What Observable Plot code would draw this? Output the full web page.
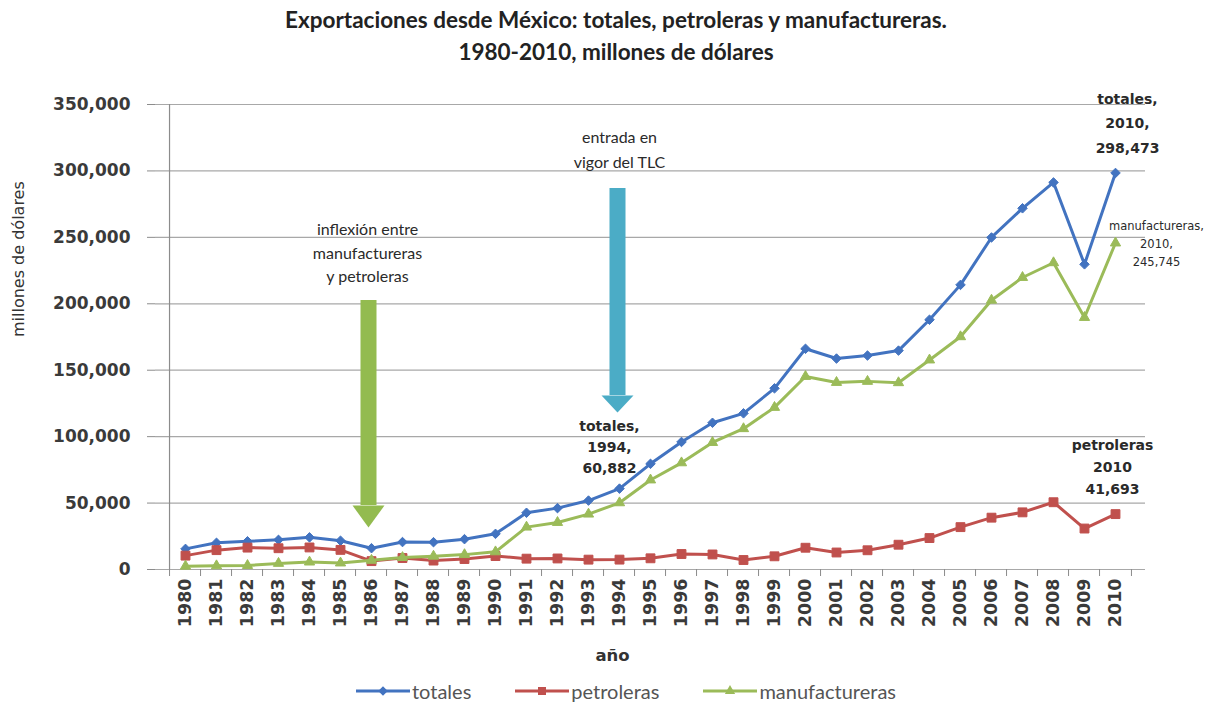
<!DOCTYPE html>
<html>
<head>
<meta charset="utf-8">
<script src="https://cdn.jsdelivr.net/npm/d3@7"></script>
<script src="https://cdn.jsdelivr.net/npm/@observablehq/plot@0.6"></script>
<style>
  html, body { margin: 0; padding: 0; background: #fff; }
  #wrap { width: 1232px; height: 706px; position: relative; overflow: hidden; }
  #title { height: 80px; box-sizing: border-box; padding-top: 4px; text-align: center;
           font-family: Lato, sans-serif; font-weight: bold; font-size: 22.5px; line-height: 32px; color: #222; }
  #legend { display: flex; justify-content: center; align-items: center; height: 31px;
            font-family: Lato, sans-serif; font-size: 20px; color: #555; margin-left: 20px; }
  #legend .item { display: flex; align-items: center; margin: 0 22px; }
  #legend svg { margin-right: 2px; }
  svg { display: block; }
</style>
</head>
<body>
<div id="wrap">
  <div id="title">Exportaciones desde México: totales, petroleras y manufactureras.<br>1980-2010, millones de dólares</div>
  <div id="chart"></div>
  <div id="legend"></div>
</div>
<script>
// ---- data ----
const years = [1980,1981,1982,1983,1984,1985,1986,1987,1988,1989,1990,1991,1992,1993,1994,1995,1996,1997,1998,1999,2000,2001,2002,2003,2004,2005,2006,2007,2008,2009,2010];
const totales = [15512,20102,21230,22312,24196,21664,16031,20656,20566,22842,26838,42688,46196,51886,60882,79542,95999,110431,117539,136362,166121,158780,161046,164766,187999,214233,249925,271875,291343,229704,298473];
const petroleras = [10441,14573,16477,16017,16601,14767,6307,8630,6711,7876,10104,8166,8307,7418,7445,8423,11654,11323,7134,9928,16383,12799,14476,18654,23667,31889,39022,43014,50635,30831,41693];
const manufactureras = [2500,2800,3000,4600,5600,4900,6900,9000,10000,11200,13300,31900,35400,41700,50200,67400,80300,95600,106000,122000,145300,140800,141600,140600,157700,175200,202700,219800,230900,189700,245745];
const yTicks = [0,50000,100000,150000,200000,250000,300000,350000];
const seriesNames = ["totales","petroleras","manufactureras"];
const seriesColors = ["#4273c0","#c0504d","#9bbb59"];
const seriesSymbols = ["diamond2","square","triangle"];

// annotations (year, value)
const labels = [
  {year:1994, value:93300, text:"totales,\n1994,\n60,882", dx:-10, size:14, lh:1.5, weight:"bold", font:"DejaVu Sans"},
  {year:2010, value:338000, text:"totales,\n2010,\n298,473", dx:12, size:14, lh:1.78, weight:"bold", font:"DejaVu Sans"},
  {year:2010, value:246400, text:"manufactureras,\n2010,\n245,745", dx:41, size:11.5, lh:1.6, weight:"normal", font:"DejaVu Sans"},
  {year:2010, value:79000, text:"petroleras\n2010\n41,693", dx:-3, size:14, lh:1.57, weight:"bold", font:"DejaVu Sans"},
  {year:1986, value:239400, text:"inflexión entre\nmanufactureras\ny petroleras", dx:-4, size:16, lh:1.47, weight:"normal", font:"Lato"},
  {year:1994, value:317300, text:"entrada en\nvigor del TLC", dx:0, size:16, lh:1.56, weight:"normal", font:"Lato"}
];
const arrows = [
  {year:1986, top:202500, headStart:48200, color:"#93bb4f", headW:32, headL:22, dx:-3},
  {year:1994, top:286800, headStart:131000, color:"#4bacc6", headW:32, headL:17, dx:-2}
];

// ---- layout ----
const W = 1232, H = 595, ML = 155, MR = 87, MT = 24, MB = 106;
const half = (W - ML - MR) / years.length / 2;

const rows = [];
seriesNames.forEach((s, k) => {
  const vals = [totales, petroleras, manufactureras][k];
  years.forEach((y, i) => rows.push({series: s, year: y, value: vals[i]}));
});

const headSymbol = (w, l) => ({draw(ctx) { ctx.moveTo(-w/2, 0); ctx.lineTo(w/2, 0); ctx.lineTo(0, l); ctx.closePath(); }});

const marks = [
  Plot.ruleY(yTicks, {y: d => d, stroke: "#a8a8a8", strokeWidth: 1.2}),
  Plot.ruleX([years[0]], {x: d => d, dx: -half, stroke: "#8c8c8c", strokeWidth: 1.2}),
  Plot.ruleX(years, {x: d => d, dx: -half, y1: 0, y2: 0, insetBottom: -7, stroke: "#8c8c8c"}),
  Plot.ruleX([years[years.length-1]], {x: d => d, dx: half, y1: 0, y2: 0, insetBottom: -7, stroke: "#8c8c8c"}),
  Plot.axisY({ticks: yTicks, tickFormat: d3.format(","), tickSize: 8, tickPadding: 17, stroke: "#8c8c8c",
              fontSize: 17, fontWeight: "bold", fontFamily: "DejaVu Sans", fill: "#3a3a3a", label: null}),
  Plot.axisX({tickSize: 0, tickPadding: 9, tickRotate: -90, tickFormat: d => String(d), fontSize: 17.5, fontWeight: "bold",
              fontFamily: "DejaVu Sans", fill: "#3a3a3a", label: null}),
  Plot.text(["millones de dólares"], {frameAnchor: "left", dx: -137, rotate: -90, fontSize: 16,
              fontFamily: "DejaVu Sans", fill: "#333"}),
  Plot.text(["año"], {frameAnchor: "bottom", dx: -38, dy: 91, fontSize: 16.5, fontWeight: "bold",
              fontFamily: "DejaVu Sans", fill: "#333"}),
];

arrows.forEach(a => {
  marks.push(Plot.ruleX([a], {x: "year", y1: "top", y2: "headStart", dx: a.dx, stroke: a.color, strokeWidth: 16}));
  marks.push(Plot.dot([a], {x: "year", y: "headStart", dx: a.dx, symbol: headSymbol(a.headW, a.headL), r: 5, fill: a.color, stroke: "none"}));
});

seriesNames.forEach((s, k) => {
  const d = rows.filter(r => r.series === s);
  marks.push(Plot.line(d, {x: "year", y: "value", stroke: seriesColors[k], strokeWidth: 3}));
  marks.push(Plot.dot(d, {x: "year", y: "value", symbol: seriesSymbols[k], fill: seriesColors[k],
    stroke: seriesColors[k], strokeWidth: 1, r: [4.3, 5, 3.8][k]}));
});

labels.forEach(l => {
  marks.push(Plot.text([l], {x: "year", y: "value", text: "text", dx: l.dx, fontSize: l.size, lineHeight: l.lh,
    fontWeight: l.weight, fontFamily: l.font, fill: "#2a2a2a"}));
});

const chart = Plot.plot({
  width: W, height: H, marginLeft: ML, marginRight: MR, marginTop: MT, marginBottom: MB,
  style: {background: "white", overflow: "visible"},
  x: {type: "point", domain: years, padding: 0.5},
  y: {domain: [0, 350000]},
  marks
});
document.getElementById("chart").appendChild(chart);

// legend
const leg = document.getElementById("legend");
seriesNames.forEach((s, k) => {
  const item = document.createElement("div");
  item.className = "item";
  const sym = d3.symbol(k === 0 ? d3.symbolDiamond2 : k === 1 ? d3.symbolSquare : d3.symbolTriangle, [58, 64, 46][k])();
  item.innerHTML = `<svg width="54" height="16"><line x1="0" x2="54" y1="8" y2="8" stroke="${seriesColors[k]}" stroke-width="3"/>` +
    `<path d="${sym}" transform="translate(27,8)" fill="${seriesColors[k]}"/></svg><span>${s}</span>`;
  leg.appendChild(item);
});
</script>
</body>
</html>
